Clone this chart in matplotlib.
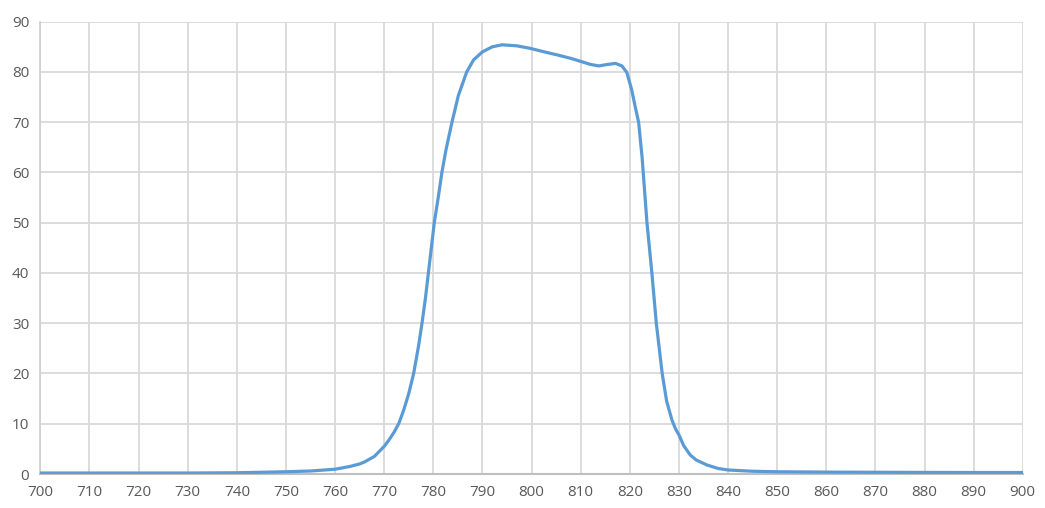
import matplotlib
matplotlib.use("Agg")
import matplotlib.pyplot as plt

wavelength = [700, 710, 720, 730, 740, 745, 750, 755, 760, 763, 765, 766, 768, 770,
              771, 772, 773, 774, 775, 776, 777, 777.7, 778.4, 779, 779.6, 780.2, 781,
              781.75, 782.6, 783.8, 785.1, 786.8, 788.2, 790, 792, 794, 797,
              799.7, 803, 805.2, 808, 810, 812, 813.7, 815.5, 817.1, 818.4, 819.4,
              820.4, 821.1, 821.8, 822.5, 823.5, 824.5, 825.4, 826.6, 827.5, 828.6,
              829.3, 830, 831, 832.3, 833.5, 835.7, 838, 840, 845, 850, 860, 870, 880,
              890, 900]
transmission = [0.2, 0.2, 0.2, 0.2, 0.25, 0.35, 0.45, 0.6, 0.95, 1.5, 2.0, 2.4, 3.5, 5.5,
                6.8, 8.3, 10.1, 12.8, 16, 20, 25.5, 30, 35, 40, 45, 50, 55,
                60, 64.6, 70, 75.3, 80, 82.4, 84.0, 85.0, 85.4, 85.2,
                84.7, 83.9, 83.4, 82.7, 82.1, 81.5, 81.2, 81.5, 81.7, 81.2, 79.9,
                76.4, 73.1, 70, 63.1, 50, 40, 30, 20, 14.5, 10.7,
                9.0, 7.8, 5.6, 3.8, 2.8, 1.8, 1.1, 0.8, 0.55, 0.45, 0.38, 0.35, 0.32,
                0.3, 0.3]
x_ticks = list(range(700, 901, 10))
y_ticks = list(range(0, 91, 10))

plt.rcParams['font.family'] = ['Open Sans', 'DejaVu Sans']

fig = plt.figure(figsize=(10.45, 5.08), dpi=100)
ax = fig.add_axes([0.0386, 0.0669, 0.9401, 0.8904])

ax.plot(wavelength, transmission, color='#5B9BD5', lw=2.3, solid_capstyle='round',
        solid_joinstyle='round', zorder=3)

ax.set_xlim(700, 900)
ax.set_ylim(0, 90)
ax.set_xticks(x_ticks)
ax.set_yticks(y_ticks)
ax.grid(True, color='#d9d9d9', lw=1.3, zorder=0)
ax.set_axisbelow(True)
for s in ['top', 'right']:
    ax.spines[s].set_visible(False)
ax.spines['left'].set_color('#d0d0d0')
ax.spines['left'].set_linewidth(1.3)
ax.spines['bottom'].set_color('#bfbfbf')
ax.spines['bottom'].set_linewidth(1.5)
ax.tick_params(length=0, labelsize=11, labelcolor='#595959', pad=8)

fig.savefig('out.png', dpi=100, facecolor='white')
